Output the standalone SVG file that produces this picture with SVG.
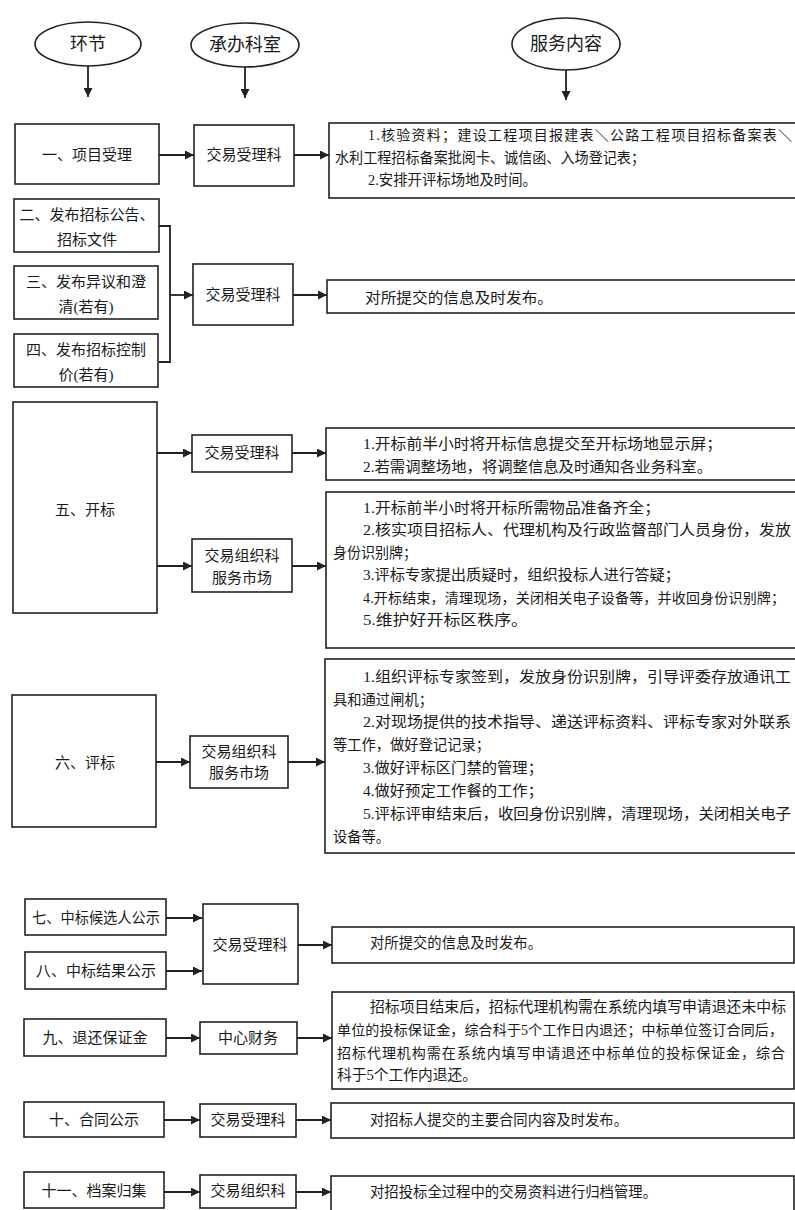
<svg xmlns="http://www.w3.org/2000/svg" width="795" height="1210" viewBox="0 0 795 1210">
<defs>
<style>
.box{fill:#fff;stroke:#222;stroke-width:1.6}
.ell{fill:#fff;stroke:#222;stroke-width:1.6}
.lbl{font-family:"Liberation Serif","Noto Sans CJK SC",serif;font-size:15px;fill:#1a1a1a;text-anchor:middle;dominant-baseline:central}
.hdr{font-family:"Liberation Serif","Noto Sans CJK SC",serif;font-size:18px;fill:#1a1a1a;text-anchor:middle;dominant-baseline:central}
.txt{font-family:"Liberation Serif","Noto Sans CJK SC",serif;font-size:15px;fill:#1a1a1a;dominant-baseline:central}
.sm{font-size:14px}
.conn{stroke:#222;stroke-width:1.8;fill:none}
</style>
<marker id="ah" viewBox="0 0 10 10" refX="10" refY="5" markerWidth="9" markerHeight="9" markerUnits="userSpaceOnUse" orient="auto">
<path d="M0,0 L10,5 L0,10 z" fill="#222"/>
</marker>
</defs>
<rect width="795" height="1210" fill="#fff"/>

<g id="connectors">
<path class="conn" marker-end="url(#ah)" d="M88,66 V97"/>
<path class="conn" marker-end="url(#ah)" d="M245,67 V98"/>
<path class="conn" marker-end="url(#ah)" d="M566,70 V100"/>
<path class="conn" marker-end="url(#ah)" d="M159,155 H194"/>
<path class="conn" marker-end="url(#ah)" d="M294,155 H329"/>
<path class="conn" d="M159,226 H170 V362 H159"/>
<path class="conn" marker-end="url(#ah)" d="M170,295 H193"/>
<path class="conn" marker-end="url(#ah)" d="M293,295 H327"/>
<path class="conn" marker-end="url(#ah)" d="M157,453 H192"/>
<path class="conn" marker-end="url(#ah)" d="M157,566 H192"/>
<path class="conn" marker-end="url(#ah)" d="M292,453 H326"/>
<path class="conn" marker-end="url(#ah)" d="M292,566 H326"/>
<path class="conn" marker-end="url(#ah)" d="M156,762 H190"/>
<path class="conn" marker-end="url(#ah)" d="M288,762 H325"/>
<path class="conn" marker-end="url(#ah)" d="M166,918 H202"/>
<path class="conn" marker-end="url(#ah)" d="M166,971 H202"/>
<path class="conn" marker-end="url(#ah)" d="M298,945 H332"/>
<path class="conn" marker-end="url(#ah)" d="M166,1038 H200"/>
<path class="conn" marker-end="url(#ah)" d="M297,1038 H332"/>
<path class="conn" marker-end="url(#ah)" d="M164,1120 H200"/>
<path class="conn" marker-end="url(#ah)" d="M296,1120 H331"/>
<path class="conn" marker-end="url(#ah)" d="M164,1192 H200"/>
<path class="conn" marker-end="url(#ah)" d="M296,1192 H331"/>
</g>

<g id="h1"><ellipse class="ell" cx="88" cy="44" rx="53" ry="22"/><text class="hdr" x="88" y="44">环节</text></g>
<g id="h2"><ellipse class="ell" cx="245" cy="45" rx="54" ry="22"/><text class="hdr" x="245" y="45">承办科室</text></g>
<g id="h3"><ellipse class="ell" cx="566" cy="44" rx="54" ry="26"/><text class="hdr" x="566" y="44">服务内容</text></g>

<g id="n1"><rect class="box" x="15" y="124" width="144" height="60"/><text class="lbl" x="87" y="155">一、项目受理</text></g>
<g id="d1"><rect class="box" x="194" y="125" width="100" height="61"/><text class="lbl" x="244" y="155">交易受理科</text></g>
<g id="c1"><rect class="box" x="329" y="123" width="480" height="75"/>
<text class="txt sm" x="368" y="135" textLength="424" lengthAdjust="spacing">1.核验资料；建设工程项目报建表＼公路工程项目招标备案表＼</text>
<text class="txt" x="335" y="158" textLength="310" lengthAdjust="spacingAndGlyphs">水利工程招标备案批阅卡、诚信函、入场登记表；</text>
<text class="txt" x="368" y="180" textLength="169" lengthAdjust="spacingAndGlyphs">2.安排开评标场地及时间。</text></g>

<g id="n2"><rect class="box" x="14" y="199" width="145" height="53"/><text class="lbl" x="87" y="215">二、发布招标公告、</text><text class="lbl" x="87" y="240">招标文件</text></g>
<g id="n3"><rect class="box" x="14" y="266" width="144" height="53"/><text class="lbl" x="86" y="282">三、发布异议和澄</text><text class="lbl" x="86" y="307">清(若有)</text></g>
<g id="n4"><rect class="box" x="14" y="334" width="144" height="53"/><text class="lbl" x="86" y="350">四、发布招标控制</text><text class="lbl" x="86" y="375">价(若有)</text></g>
<g id="d2"><rect class="box" x="193" y="264" width="100" height="61"/><text class="lbl" x="243" y="295">交易受理科</text></g>
<g id="c2"><rect class="box" x="327" y="280" width="480" height="33"/>
<text class="txt" x="365" y="298" textLength="188" lengthAdjust="spacingAndGlyphs">对所提交的信息及时发布。</text></g>

<g id="n5"><rect class="box" x="13" y="402" width="144" height="211"/><text class="lbl" x="85" y="510">五、开标</text></g>
<g id="d3"><rect class="box" x="192" y="435" width="100" height="37"/><text class="lbl" x="242" y="453">交易受理科</text></g>
<g id="d4"><rect class="box" x="192" y="539" width="100" height="53"/><text class="lbl" x="242" y="556">交易组织科</text><text class="lbl" x="242" y="578">服务市场</text></g>
<g id="c3"><rect class="box" x="326" y="428" width="480" height="52"/>
<text class="txt" x="363" y="444" textLength="359" lengthAdjust="spacingAndGlyphs">1.开标前半小时将开标信息提交至开标场地显示屏；</text>
<text class="txt" x="363" y="467" textLength="349" lengthAdjust="spacingAndGlyphs">2.若需调整场地，将调整信息及时通知各业务科室。</text></g>
<g id="c4"><rect class="box" x="326" y="492" width="480" height="156"/>
<text class="txt" x="363" y="508" textLength="297" lengthAdjust="spacingAndGlyphs">1.开标前半小时将开标所需物品准备齐全；</text>
<text class="txt" x="363" y="530" textLength="428" lengthAdjust="spacingAndGlyphs">2.核实项目招标人、代理机构及行政监督部门人员身份，发放</text>
<text class="txt" x="333" y="553" textLength="84" lengthAdjust="spacingAndGlyphs">身份识别牌；</text>
<text class="txt" x="363" y="575" textLength="317" lengthAdjust="spacingAndGlyphs">3.评标专家提出质疑时，组织投标人进行答疑；</text>
<text class="txt sm" x="363" y="598" textLength="422" lengthAdjust="spacing">4.开标结束，清理现场，关闭相关电子设备等，并收回身份识别牌；</text>
<text class="txt" x="363" y="620" textLength="165" lengthAdjust="spacingAndGlyphs">5.维护好开标区秩序。</text></g>

<g id="n6"><rect class="box" x="12" y="695" width="144" height="132"/><text class="lbl" x="85" y="763">六、评标</text></g>
<g id="d5"><rect class="box" x="190" y="736" width="98" height="52"/><text class="lbl" x="239" y="752">交易组织科</text><text class="lbl" x="239" y="773">服务市场</text></g>
<g id="c5"><rect class="box" x="325" y="659" width="480" height="194"/>
<text class="txt" x="363" y="677" textLength="428" lengthAdjust="spacingAndGlyphs">1.组织评标专家签到，发放身份识别牌，引导评委存放通讯工</text>
<text class="txt" x="333" y="700" textLength="100" lengthAdjust="spacingAndGlyphs">具和通过闸机；</text>
<text class="txt" x="363" y="722" textLength="428" lengthAdjust="spacingAndGlyphs">2.对现场提供的技术指导、递送评标资料、评标专家对外联系</text>
<text class="txt" x="333" y="745" textLength="157" lengthAdjust="spacingAndGlyphs">等工作，做好登记记录；</text>
<text class="txt" x="363" y="768" textLength="180" lengthAdjust="spacingAndGlyphs">3.做好评标区门禁的管理；</text>
<text class="txt" x="363" y="791" textLength="180" lengthAdjust="spacingAndGlyphs">4.做好预定工作餐的工作；</text>
<text class="txt" x="363" y="814" textLength="428" lengthAdjust="spacingAndGlyphs">5.评标评审结束后，收回身份识别牌，清理现场，关闭相关电子</text>
<text class="txt" x="333" y="837" textLength="57" lengthAdjust="spacingAndGlyphs">设备等。</text></g>

<g id="n7"><rect class="box" x="25" y="899" width="141" height="36"/><text class="lbl" x="96" y="918" textLength="128" lengthAdjust="spacingAndGlyphs">七、中标候选人公示</text></g>
<g id="n8"><rect class="box" x="25" y="952" width="141" height="37"/><text class="lbl" x="96" y="971">八、中标结果公示</text></g>
<g id="d6"><rect class="box" x="203" y="904" width="95" height="80"/><text class="lbl" x="250" y="945">交易受理科</text></g>
<g id="c6"><rect class="box" x="332" y="927" width="462" height="36"/>
<text class="txt" x="370" y="943" textLength="172" lengthAdjust="spacingAndGlyphs">对所提交的信息及时发布。</text></g>

<g id="n9"><rect class="box" x="24" y="1019" width="142" height="37"/><text class="lbl" x="95" y="1038">九、退还保证金</text></g>
<g id="d7"><rect class="box" x="200" y="1022" width="97" height="32"/><text class="lbl" x="248" y="1038">中心财务</text></g>
<g id="c7"><rect class="box" x="332" y="992" width="462" height="97"/>
<text class="txt" x="370" y="1007" textLength="416" lengthAdjust="spacingAndGlyphs">招标项目结束后，招标代理机构需在系统内填写申请退还未中标</text>
<text class="txt sm" x="337" y="1030" textLength="446" lengthAdjust="spacing">单位的投标保证金，综合科于5个工作日内退还；中标单位签订合同后，</text>
<text class="txt sm" x="337" y="1053" textLength="448" lengthAdjust="spacing">招标代理机构需在系统内填写申请退还中标单位的投标保证金，综合</text>
<text class="txt" x="337" y="1075" textLength="140" lengthAdjust="spacingAndGlyphs">科于5个工作内退还。</text></g>

<g id="n10"><rect class="box" x="24" y="1102" width="140" height="35"/><text class="lbl" x="94" y="1120">十、合同公示</text></g>
<g id="d8"><rect class="box" x="200" y="1104" width="96" height="33"/><text class="lbl" x="248" y="1120">交易受理科</text></g>
<g id="c8"><rect class="box" x="331" y="1103" width="463" height="35"/>
<text class="txt" x="370" y="1120" textLength="258" lengthAdjust="spacingAndGlyphs">对招标人提交的主要合同内容及时发布。</text></g>

<g id="n11"><rect class="box" x="24" y="1172" width="140" height="36"/><text class="lbl" x="94" y="1191">十一、档案归集</text></g>
<g id="d9"><rect class="box" x="200" y="1175" width="96" height="33"/><text class="lbl" x="248" y="1191">交易组织科</text></g>
<g id="c9"><rect class="box" x="331" y="1176" width="463" height="40"/>
<text class="txt" x="370" y="1192" textLength="287" lengthAdjust="spacingAndGlyphs">对招投标全过程中的交易资料进行归档管理。</text></g>
</svg>
